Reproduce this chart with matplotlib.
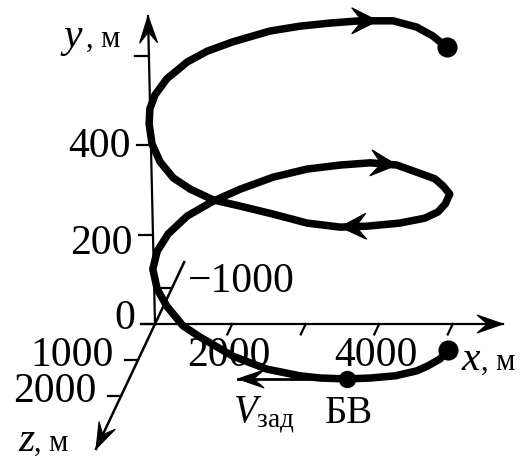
import numpy as np
import matplotlib.pyplot as plt
from matplotlib.patches import Polygon
from matplotlib.transforms import IdentityTransform

plt.rcParams["font.family"] = "Liberation Serif"
plt.rcParams["mathtext.fontset"] = "custom"
plt.rcParams["mathtext.rm"] = "Liberation Serif"
plt.rcParams["mathtext.it"] = "Liberation Serif:italic"

W, H, DPI = 531, 460, 100

# trajectory projected onto the drawing plane, metres
traj_x = [4940, 4830, 4660, 4510, 4220, 3880, 3560, 3200, 2920, 2470,
          2010, 1560, 1330, 1110, 980, 920, 980, 1130, 1390, 1740,
          2110, 2560, 3020, 3470, 3880, 4240, 4510, 4760, 4870, 4960,
          4900, 4800, 4620, 4280, 3830, 3470, 3020, 2560, 2110, 1740,
          1430, 1200, 1020, 910, 870, 880, 950, 1110, 1390, 1660,
          2010, 2510, 2920, 3330, 3740, 3980, 4190, 4510, 4730, 4920]
traj_y = [-58, -78, -94, -105, -116, -121, -123, -121, -116, -101,
          -72, -29, -4, 40, 78, 123, 163, 202, 242, 275,
          302, 329, 347, 356, 361, 356, 340, 325, 309, 291,
          269, 251, 237, 226, 219, 217, 226, 246, 264, 278,
          302, 327, 363, 403, 448, 482, 513, 549, 587, 611,
          632, 656, 667, 674, 679, 679, 679, 665, 645, 620]
heads_at = [25, 35, 55]     # arrowheads point from traj[i-1] to traj[i]
bv_index = 6
v_tip = (2080, -123)        # end of the V_zad vector

x_ticks = [2000, 3000, 4000, 5000]
x_labels = {2000: "2000", 4000: "4000"}
y_ticks = [0, 200, 400, 600]
y_labels = {0: "0", 200: "200", 400: "400"}
z_ticks = [-1000, 1000, 2000]
z_labels = {-1000: "\u22121000", 1000: "1000", 2000: "2000"}

# oblique projection: x to the right, y up, z down-left
X0 = 950
KX, KY = -0.231, -0.0806
SX, SY = 13.605, 2.2396     # metres per pixel
OX, OY = 155, 325           # origin in pixels


def proj(x, y, z=0.0):
    return x + KX * z, y + KY * z


fig = plt.figure(figsize=(W / DPI, H / DPI), dpi=DPI)
ax = fig.add_axes([0, 0, 1, 1])
ax.set_xlim(X0 - OX * SX, X0 + (W - OX) * SX)
ax.set_ylim(-(H - OY) * SY, OY * SY)
ax.set_autoscale_on(False)
ax.axis("off")


def head(p_from, p_to, length, half, z=6):
    a = ax.transData.transform(p_from)
    b = ax.transData.transform(p_to)
    d = (b - a) / np.hypot(*(b - a))
    n = np.array([-d[1], d[0]])
    pts = [b, b - length * d + half * n, b - 0.6 * length * d,
           b - length * d - half * n]
    ax.add_patch(Polygon(pts, closed=True, transform=IdentityTransform(),
                         facecolor="k", edgecolor="k", lw=0.8, zorder=z))


def fpx(x, y):
    return x / W, 1 - y / H


AX_LW = 1.6
# x axis
x_end = X0 + (503 - OX) * SX
ax.plot([X0 - 13 * SX, x_end], [0, 0], "k", lw=AX_LW)
head((X0, 0), (x_end, 0), 26, 9)
for t in x_ticks:
    p0, p1 = proj(t, 0, 0), proj(t, 0, 290)
    ax.plot([p0[0], p1[0]], [p0[1], p1[1]], "k", lw=AX_LW)
    if t in x_labels:
        ax.annotate(x_labels[t], p0, xytext=(-3, -31), textcoords="offset pixels",
                    ha="center", va="center", fontsize=30, zorder=2)

# y axis, leaning slightly left
y_top = (X0 - 7 * SX, (OY - 17) * SY)
ax.plot([X0, y_top[0]], [0, y_top[1]], "k", lw=AX_LW)
head((X0, 0), y_top, 27, 9)
y_shift = {0: 6, 200: -8, 400: 0}
for t in y_ticks:
    xa = X0 + (y_top[0] - X0) * t / y_top[1]
    ax.plot([xa - 14 * SX, xa], [t, t], "k", lw=AX_LW)
    if t in y_labels:
        ax.annotate(y_labels[t], (xa - 14 * SX, t), xytext=(-6, y_shift[t]),
                    textcoords="offset pixels", ha="right", va="center", fontsize=30)

# z axis
z0, z1 = proj(X0, 0, -1720), proj(X0, 0, 3470)
ax.plot([z0[0], z1[0]], [z0[1], z1[1]], "k", lw=1.8)
head(proj(X0, 0, 0), z1, 26, 9)
z_off = {-1000: (16, 7, "left"), 1000: (-24, 5, "right"), 2000: (-25, 5, "right")}
for t in z_ticks:
    p = proj(X0, 0, t)
    ax.plot([p[0] - 13 * SX, p[0]], [p[1], p[1]], "k", lw=AX_LW)
    dx, dy, ha = z_off[t]
    ax.annotate(z_labels[t], p, xytext=(dx, dy), textcoords="offset pixels",
                ha=ha, va="center", fontsize=30)

# axis names
for letter, (lx, ly), comma_x in [("y", (63, 47), 86), ("x", (462, 370), 481),
                                   ("z", (18, 451), 34)]:
    fig.text(*fpx(lx, ly), letter, fontsize=30, style="italic",
             ha="left", va="baseline")
    fig.text(*fpx(comma_x, ly), ", м", fontsize=22, ha="left", va="baseline")

# trajectory
ax.plot(traj_x, traj_y, "k", lw=5.4, solid_joinstyle="round",
        solid_capstyle="round", zorder=4)
for i in heads_at:
    head((traj_x[i - 1], traj_y[i - 1]), (traj_x[i], traj_y[i]), 26, 13)
ax.plot([traj_x[0], traj_x[-1]], [traj_y[0], traj_y[-1]], "o", color="k",
        ms=13.5, zorder=5)

# release point and the required velocity vector
bv = (traj_x[bv_index], traj_y[bv_index])
ax.plot([bv[0], v_tip[0]], [bv[1], v_tip[1]], "k", lw=2.0, zorder=4)
head(bv, v_tip, 26, 9)
ax.plot(*bv, "o", color="k", ms=11.5, zorder=5)
fig.text(*fpx(349, 423), "БВ", fontsize=28, ha="center", va="baseline")
fig.text(*fpx(233, 423), r"$V_{\mathrm{зад}}$", fontsize=28, ha="left", va="baseline")

fig.savefig("out.png", dpi=DPI)
